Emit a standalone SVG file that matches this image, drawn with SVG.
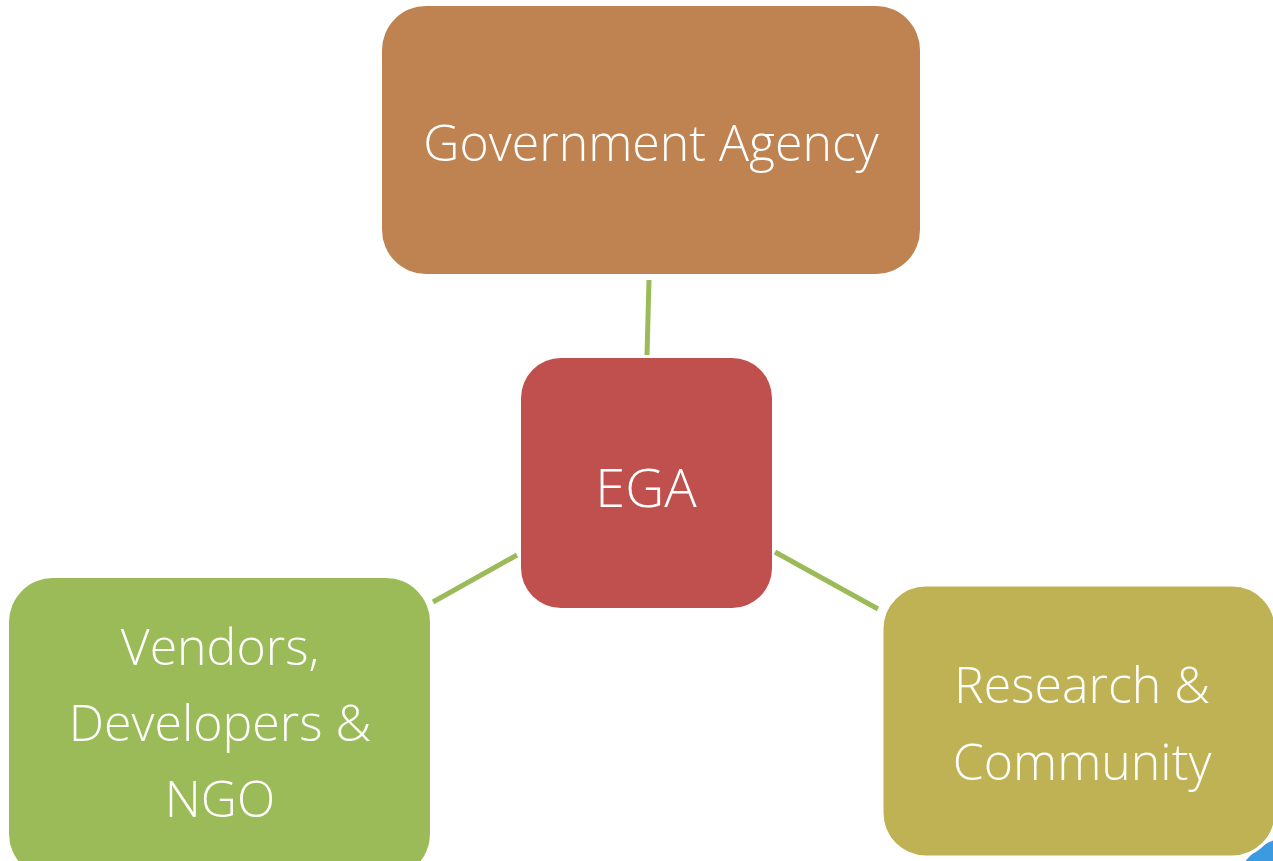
<svg xmlns="http://www.w3.org/2000/svg" width="1273" height="861" viewBox="0 0 1273 861">
<style>
.lbl{font-family:"Open Sans","Liberation Sans",sans-serif;font-weight:300;fill:#fff;text-anchor:middle}
.con{stroke:#9BBB59;stroke-width:5;fill:none}
</style>
<rect width="1273" height="861" fill="#fff"/>
<g id="corner"><circle cx="1300" cy="905" r="70" fill="#3C9BE0"/></g>
<g id="connectors">
<line class="con" x1="649" y1="280" x2="647" y2="355"/>
<line class="con" x1="517" y1="555" x2="433" y2="602"/>
<line class="con" x1="775" y1="552" x2="878" y2="609"/>
</g>
<g id="gov"><rect x="382" y="6" width="538" height="268" rx="44" fill="#BE8350"/>
<text class="lbl" x="651" y="161" font-size="50">Government Agency</text></g>
<g id="ega"><rect x="521" y="358" width="251" height="250" rx="40" fill="#C0504D"/>
<text class="lbl" x="646" y="507" font-size="54">EGA</text></g>
<g id="vendors"><rect x="9" y="578" width="421" height="300" rx="44" fill="#9BBB59"/>
<text class="lbl" font-size="50"><tspan x="220" y="665">Vendors,</tspan><tspan x="220" y="741">Developers &amp;</tspan><tspan x="220" y="817">NGO</tspan></text></g>
<g id="research"><rect x="882" y="585" width="394" height="272" rx="44" fill="#BFB255" stroke="#fff" stroke-width="3"/>
<text class="lbl" font-size="50"><tspan x="1082" y="703">Research &amp;</tspan><tspan x="1082" y="780">Community</tspan></text></g>
</svg>
